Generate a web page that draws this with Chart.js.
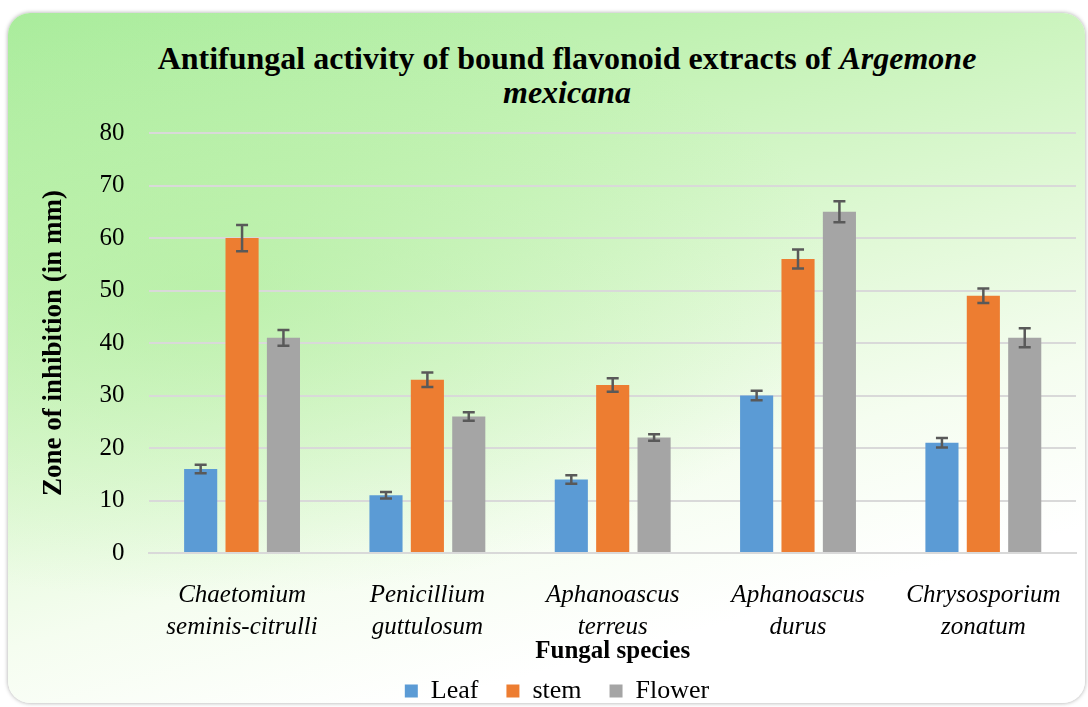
<!DOCTYPE html>
<html lang="en">

<head>
    <meta charset="UTF-8" />
    <title>Antifungal activity</title>
    <style>
        body { margin: 0; background: #fff; font-family: "Liberation Serif", serif; }
        #panel {
            position: absolute; left: 8px; top: 13px; width: 1077px; height: 690px;
            border-radius: 22px;
            background:
                radial-gradient(ellipse 60% 45% at 18% 40%, rgba(170,236,150,0.55), rgba(170,236,150,0) 100%),
                linear-gradient(165deg, #a9ec9c 0%, #c6f3b8 25%, #e2f9d8 48%, #f5fdf0 65%, #ffffff 82%);
            box-shadow: 0 0 4px rgba(0,0,0,0.35);
        }
        #title {
            position: absolute; left: 46px; width: 1042px; top: 41px; margin: 0;
            text-align: center; font-size: 32px; font-weight: bold; line-height: 34px; color: #000;
        }
        #wrap { position: absolute; left: 0; top: 0; width: 1088px; height: 707px; }
    </style>
    <script src="https://cdn.jsdelivr.net/npm/chart.js"></script>
</head>

<body>
    <div id="panel"></div>
    <h1 id="title">Antifungal activity of bound flavonoid extracts of <i>Argemone</i><br><i>mexicana</i></h1>
    <div id="wrap"><canvas id="myChart" width="1088" height="707"></canvas></div>

    <script>
        // data
        var species = [
            ['Chaetomium', 'seminis-citrulli'],
            ['Penicillium', 'guttulosum'],
            ['Aphanoascus', 'terreus'],
            ['Aphanoascus', 'durus'],
            ['Chrysosporium', 'zonatum']
        ];
        var leaf = [16, 11, 14, 30, 21];
        var stem = [60, 33, 32, 56, 49];
        var flower = [41, 26, 22, 65, 41];
        var leafErr = [0.8, 0.6, 0.8, 0.9, 0.9];
        var stemErr = [2.5, 1.4, 1.3, 1.8, 1.4];
        var flowerErr = [1.5, 0.8, 0.6, 2.0, 1.8];
        var yTicks = [0, 10, 20, 30, 40, 50, 60, 70, 80];

        var errorBars = {
            id: 'errorBars',
            afterDatasetsDraw: function (chart) {
                var ctx = chart.ctx;
                var yScale = chart.scales.y;
                ctx.save();
                ctx.strokeStyle = '#595959';
                ctx.lineWidth = 2.5;
                chart.data.datasets.forEach(function (ds, i) {
                    var meta = chart.getDatasetMeta(i);
                    meta.data.forEach(function (bar, j) {
                        var v = ds.data[j], e = ds.err[j];
                        var top = yScale.getPixelForValue(v + e);
                        var bot = yScale.getPixelForValue(v - e);
                        ctx.beginPath();
                        ctx.moveTo(bar.x, top); ctx.lineTo(bar.x, bot);
                        ctx.moveTo(bar.x - 6, top); ctx.lineTo(bar.x + 6, top);
                        ctx.moveTo(bar.x - 6, bot); ctx.lineTo(bar.x + 6, bot);
                        ctx.stroke();
                    });
                });
                ctx.restore();
            }
        };

        var ctx = document.getElementById('myChart').getContext('2d');
        var myChart = new Chart(ctx, {
            type: 'bar',
            data: {
                labels: species,
                datasets: [
                    { label: 'Leaf', data: leaf, err: leafErr, backgroundColor: '#5b9bd5' },
                    { label: 'stem', data: stem, err: stemErr, backgroundColor: '#ed7d31' },
                    { label: 'Flower', data: flower, err: flowerErr, backgroundColor: '#a5a5a5' }
                ]
            },
            plugins: [errorBars],
            options: {
                responsive: false,
                animation: false,
                layout: { padding: { top: 133, left: 38, right: 12, bottom: -7 } },
                datasets: { bar: { categoryPercentage: 0.67, barPercentage: 0.8 } },
                plugins: {
                    tooltip: { enabled: false },
                    legend: {
                        position: 'bottom',
                        labels: {
                            font: { family: 'Liberation Serif', size: 26 },
                            color: '#000',
                            boxWidth: 13, boxHeight: 13,
                            padding: 28
                        }
                    }
                },
                scales: {
                    x: {
                        grid: { display: false },
                        border: { color: '#d9d9d9', width: 2 },
                        ticks: {
                            font: { family: 'Liberation Serif', size: 25, style: 'italic', lineHeight: 1.3 },
                            color: '#000', padding: 18, maxRotation: 0
                        },
                        title: {
                            display: true, text: 'Fungal species', color: '#000',
                            font: { family: 'Liberation Serif', size: 25, weight: 'bold', lineHeight: 0.8 },
                            padding: { top: -20, bottom: -12 }
                        }
                    },
                    y: {
                        min: 0, max: 80,
                        afterBuildTicks: function (axis) {
                            axis.ticks = yTicks.map(function (v) { return { value: v }; });
                        },
                        grid: { color: '#d9d9d9', lineWidth: 2, drawTicks: false },
                        border: { display: false },
                        ticks: {
                            font: { family: 'Liberation Serif', size: 25 },
                            color: '#000', padding: 25
                        },
                        title: {
                            display: true, text: 'Zone of inhibition (in mm)', color: '#000',
                            font: { family: 'Liberation Serif', size: 27, weight: 'bold' },
                            padding: { top: 0, bottom: 4 }
                        }
                    }
                }
            }
        });
    </script>
</body>

</html>
